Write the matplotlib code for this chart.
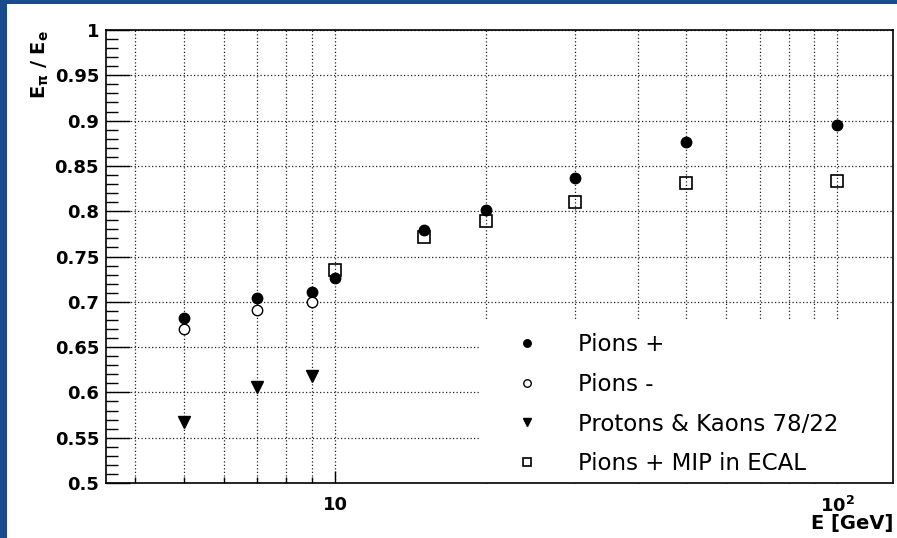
import matplotlib
matplotlib.use("Agg")
import matplotlib.pyplot as plt
import matplotlib.ticker as ticker
from matplotlib.patches import Rectangle

# response ratio E_pi / E_e versus beam energy
energy_pip = [5, 7, 9, 10, 15, 20, 30, 50, 100]
resp_pip = [0.682, 0.704, 0.711, 0.726, 0.779, 0.801, 0.837, 0.876, 0.895]

energy_pim = [5, 7, 9]
resp_pim = [0.670, 0.691, 0.700]

energy_pk = [5, 7, 9]
resp_pk = [0.567, 0.606, 0.618]

energy_mip = [10, 15, 20, 30, 50, 100]
resp_mip = [0.735, 0.772, 0.789, 0.810, 0.831, 0.833]

plt.rcParams['font.family'] = 'DejaVu Sans'
plt.rcParams['mathtext.fontset'] = 'dejavusans'

fig = plt.figure(figsize=(8.97, 5.38), dpi=100, facecolor='#1a4b8f')
# white page on the blue slide
fig.patches.append(Rectangle((7 / 897, 0), 1, 1 - 4 / 538, transform=fig.transFigure,
                             facecolor='white', edgecolor='none', zorder=-10))

ax = fig.add_axes([106 / 897, 1 - 483 / 538, 787 / 897, 453 / 538])
ax.set_xscale('log')
ax.set_xlim(3.5, 129)
ax.set_ylim(0.5, 1.0)

ax.plot(energy_pip, resp_pip, 'o', color='black', ms=7.5, label="Pions +", zorder=3)
ax.plot(energy_pim, resp_pim, 'o', mfc='white', mec='black', mew=1.0, ms=7.5,
        label="Pions -", zorder=3)
ax.plot(energy_pk, resp_pk, 'v', color='black', ms=8, label="Protons & Kaons 78/22", zorder=3)
ax.plot(energy_mip, resp_mip, 's', mfc='none', mec='black', mew=1.2, ms=8,
        label="Pions + MIP in ECAL", zorder=3)

ax.xaxis.set_major_locator(ticker.FixedLocator([10, 100]))
ax.xaxis.set_major_formatter(ticker.FixedFormatter(['10', r'$\mathbf{10^{2}}$']))
ax.xaxis.set_minor_locator(ticker.LogLocator(base=10, subs=range(2, 10)))
ax.xaxis.set_minor_formatter(ticker.NullFormatter())
ax.yaxis.set_major_locator(ticker.MultipleLocator(0.05))
ax.yaxis.set_minor_locator(ticker.MultipleLocator(0.01))
ax.yaxis.set_major_formatter(ticker.FuncFormatter(lambda v, p: f"{v:g}"))

ax.tick_params(axis='y', which='major', direction='in', length=17, width=1, labelsize=13, pad=5)
ax.tick_params(axis='y', which='minor', direction='in', length=8.5, width=1)
ax.tick_params(axis='x', which='major', direction='in', length=8.5, width=1, labelsize=13, pad=9)
ax.tick_params(axis='x', which='minor', direction='in', length=4.5, width=1)
for lab in ax.get_xticklabels() + ax.get_yticklabels():
    lab.set_fontweight('bold')

ax.set_axisbelow(True)
grid_style = dict(color='#222222', linewidth=0.9, linestyle=(0, (1, 1.8)))
ax.grid(True, axis='x', which='both', **grid_style)
ax.grid(True, axis='y', which='major', **grid_style)

for sp in ax.spines.values():
    sp.set_linewidth(1.2)

# white box behind the legend hides the grid
ax.add_patch(Rectangle((0.475, 0), 0.525, 0.358, transform=ax.transAxes,
                       facecolor='white', edgecolor='none', zorder=1.5))
ax.legend(loc='upper left', bbox_to_anchor=(0.521, 0.331), frameon=False, fontsize=16.5,
          handlelength=1.0, handletextpad=1.7, labelspacing=0.73, borderpad=0,
          borderaxespad=0, markerscale=0.72)

fig.text(893 / 897, 1 - 533 / 538, 'E [GeV]', ha='right', va='bottom',
         fontsize=14, fontweight='bold')
fig.text(40 / 897, 1 - 30 / 538, r'$\mathbf{E_{\pi}\ /\ E_{e}}$', rotation=90,
         ha='center', va='top', fontsize=14)

fig.savefig('out.png', dpi=100, facecolor=fig.get_facecolor())
